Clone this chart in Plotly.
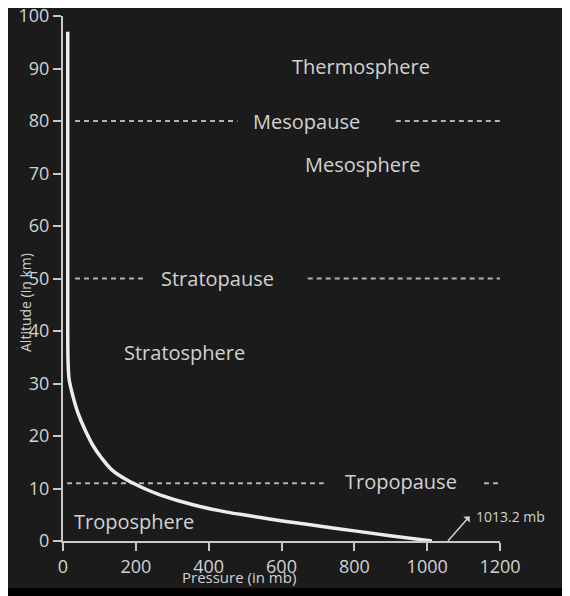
import plotly.graph_objects as go

# Pressure (mb) vs altitude (km)
altitude_km = [0, 1.0, 2.3, 3.6, 4.8, 5.5, 6.9, 8.8, 10.1, 11.6, 13.5, 16.0, 18.0, 21.1, 24.4, 27.4, 30.7, 34, 40, 97]
pressure_mb = [1013.2, 898, 761, 623, 513, 450, 357, 266, 220, 176, 135, 104, 84, 61, 41, 28, 17, 14, 13, 13]

# Boundary layers (dashed lines): altitude and dashed segment extents in mb
boundary_names = ["Mesopause", "Stratopause", "Tropopause"]
boundary_alt = [80, 50, 11]
boundary_segments = [
    [(33, 479), (914, 1208)],
    [(33, 226), (672, 1203)],
    [(11, 716), (1156, 1208)],
]

layer_names = ["Thermosphere", "Mesosphere", "Stratosphere", "Troposphere"]

x_ticks = [0, 200, 400, 600, 800, 1000, 1200]
y_ticks = [0, 10, 20, 30, 40, 50, 60, 70, 80, 90, 100]

TXT = "#d2d2d2"
AX = "#c8c8c8"
FONT = "Open Sans"

fig = go.Figure()

for alt, segs in zip(boundary_alt, boundary_segments):
    for a, b in segs:
        fig.add_trace(go.Scatter(x=[a, b], y=[alt, alt], mode="lines",
                                 line=dict(color="#b4b4b4", width=2, dash="5px,4px"),
                                 hoverinfo="skip", showlegend=False))

fig.add_trace(go.Scatter(x=pressure_mb, y=altitude_km, mode="lines",
                         line=dict(color="#ececec", width=3.5, shape="spline", smoothing=1.0),
                         showlegend=False))

# background panel
fig.add_shape(type="rect", xref="paper", yref="paper",
              x0=-0.1304, x1=1.144, y0=-0.0895, y1=1.019,
              fillcolor="#1b1b1b", line=dict(width=0), layer="below")

# boundary labels
b_pos = {"Mesopause": (669, 80), "Stratopause": (424, 50), "Tropopause": (928, 11.4)}
for n in boundary_names:
    x, y = b_pos[n]
    fig.add_annotation(x=x, y=y, text=n, showarrow=False,
                       font=dict(family=FONT, size=20, color=TXT))

l_pos = {"Thermosphere": (817, 90.3), "Mesosphere": (823, 71.8),
         "Stratosphere": (333, 36), "Troposphere": (195, 3.8)}
for n in layer_names:
    x, y = l_pos[n]
    fig.add_annotation(x=x, y=y, text=n, showarrow=False,
                       font=dict(family=FONT, size=20, color=TXT))

# 1013.2 mb arrow
fig.add_annotation(x=1057, y=0, ax=1120, ay=5, axref="x", ayref="y", text="",
                   showarrow=True, arrowhead=2, arrowside="start", arrowsize=1,
                   arrowwidth=1.5, arrowcolor=TXT)
fig.add_annotation(x=1128, y=4.6, text="1013.2 mb", showarrow=False, xanchor="left",
                   font=dict(family=FONT, size=14, color=TXT))

# axis titles
fig.add_annotation(xref="paper", yref="paper", x=(25 - 63) / 437, y=(541 - 303) / 525,
                   xanchor="center", yanchor="middle",
                   text="Altitude (in km)", textangle=-90, showarrow=False,
                   font=dict(family=FONT, size=14, color=TXT))
fig.add_annotation(xref="paper", yref="paper", x=(239 - 63) / 437, y=(541 - 577) / 525,
                   xanchor="center", yanchor="middle",
                   text="Pressure (in mb)", showarrow=False,
                   font=dict(family=FONT, size=15, color=TXT))

fig.update_xaxes(range=[0, 1200], tickvals=x_ticks, ticks="outside", ticklen=8,
                 tickwidth=2, tickcolor=AX, showline=True, linecolor=AX, linewidth=2,
                 showgrid=False, zeroline=False, automargin=False,
                 ticklabeloverflow="allow",
                 tickfont=dict(family=FONT, size=18, color=TXT))
fig.update_yaxes(range=[0, 100], tickvals=y_ticks, ticks="outside", ticklen=8,
                 tickwidth=2, tickcolor=AX, showline=True, linecolor=AX, linewidth=2,
                 showgrid=False, zeroline=False, automargin=False,
                 ticklabeloverflow="allow",
                 tickfont=dict(family=FONT, size=18, color=TXT))

# page body adds an 8px offset, so the plot area is placed 8px up/left
fig.update_layout(width=570, height=596,
                  margin=dict(l=55, r=78, t=8, b=63),
                  paper_bgcolor="#000000", plot_bgcolor="#1b1b1b")

fig.write_html("out.html")
